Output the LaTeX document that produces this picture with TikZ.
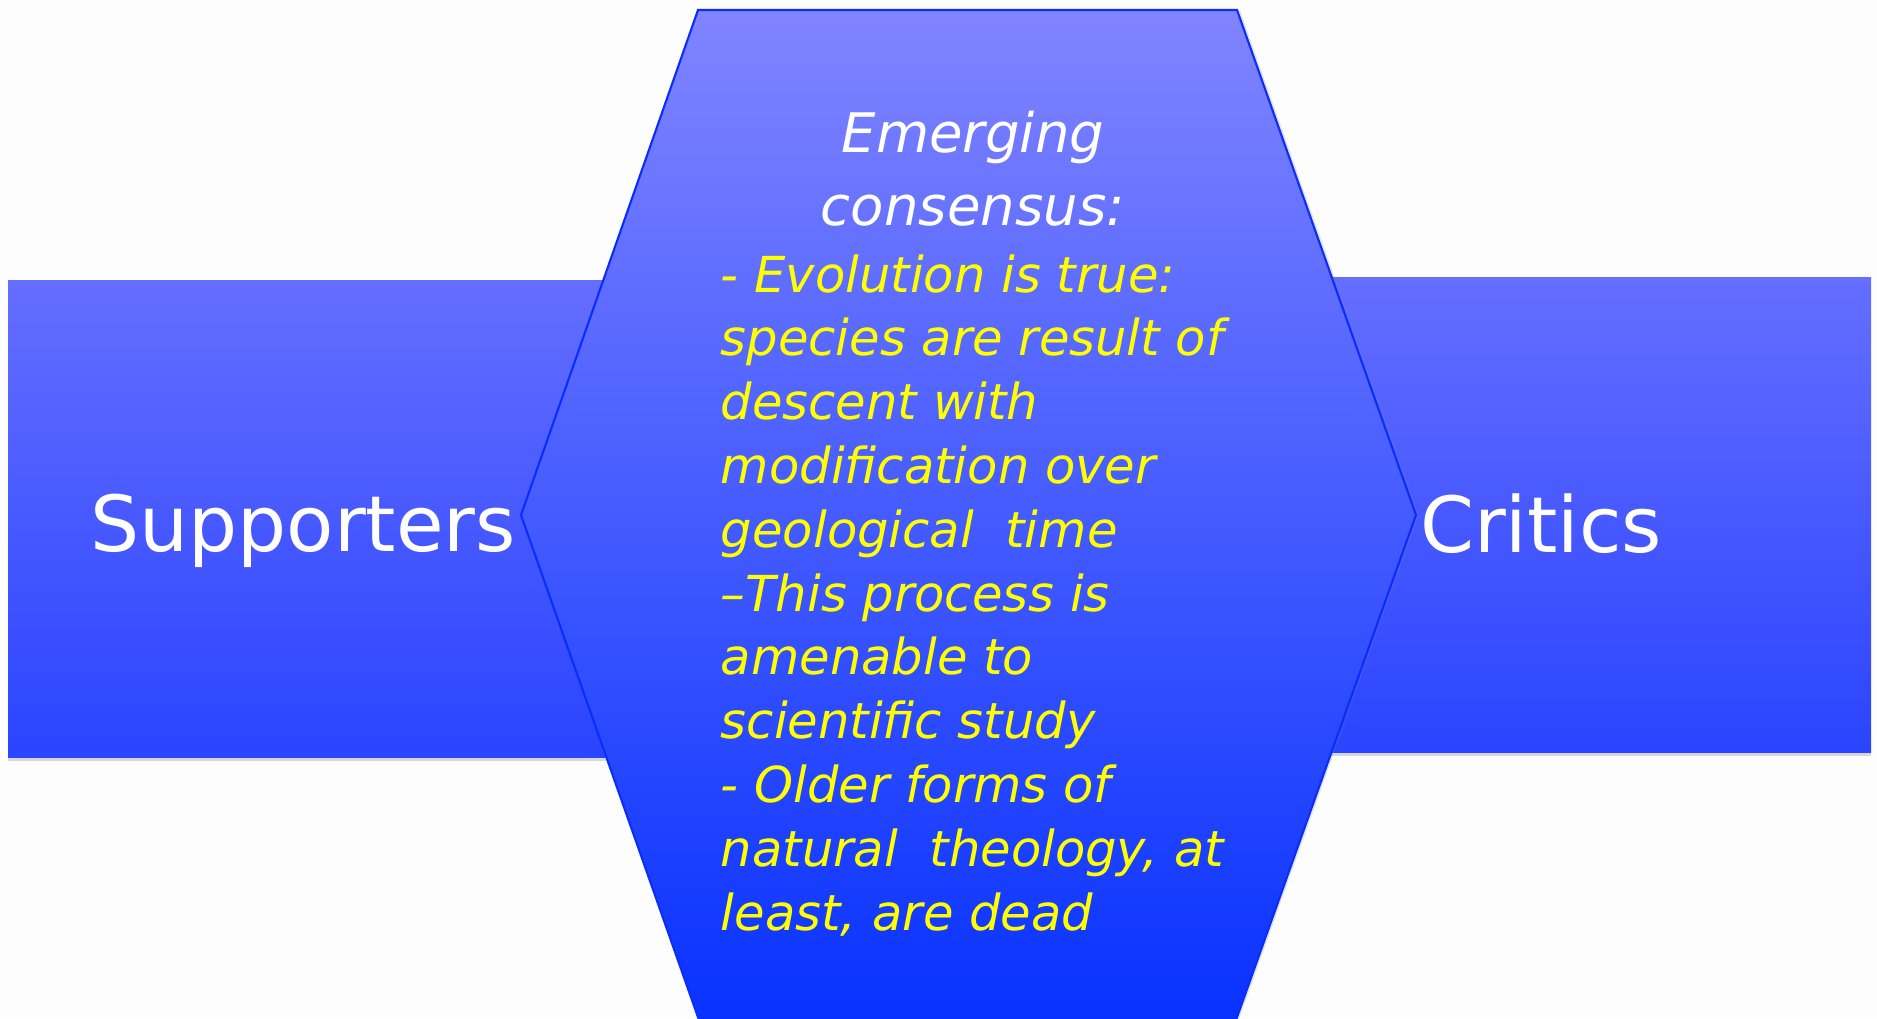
\documentclass[tikz,border=0pt]{standalone}
\usepackage{fontspec}
\setmainfont{DejaVu Sans}
\usetikzlibrary{shadows}
\definecolor{hextop}{RGB}{128,132,255}
\definecolor{hexbottom}{RGB}{8,50,255}
\definecolor{paneltop}{RGB}{100,110,255}
\definecolor{panelbottom}{RGB}{42,68,255}
\definecolor{hexline}{RGB}{10,45,255}
\definecolor{pagebg}{RGB}{253,253,253}
\definecolor{pointyellow}{RGB}{255,255,0}
\begin{document}
\begin{tikzpicture}[x=0.01cm, y=-0.01cm, line width=0.5pt,
  panel/.style={top color=paneltop, bottom color=panelbottom,
    drop shadow={shadow xshift=0pt, shadow yshift=-1.2pt, opacity=0.3}},
  side/.style={anchor=base, text=white, font=\fontsize{22}{26}\selectfont},
  heading/.style={anchor=base, text=white, font=\fontsize{15.5}{20}\itshape},
  point/.style={anchor=base west, inner sep=0pt, text=pointyellow,
    font=\fontsize{14.1}{18}\itshape}]
  \fill[pagebg] (0,0) rectangle (1877,1018);
  % side panels
  \path[panel] (8,280) rectangle (640,757);
  \path[panel] (1300,277) rectangle (1871,752);
  % centre hexagon, its lower edge runs off the page
  \draw[hexline, line width=0.6pt, top color=hextop, bottom color=hexbottom,
    drop shadow={shadow xshift=0.8pt, shadow yshift=0pt, opacity=0.2}]
    (698,10) -- (1237,10) -- (1416,515) -- (1236,1020) -- (699,1020) -- (521,515) -- cycle;
  \node[side] (supporters) at (303,551) {Supporters};
  \node[side] (critics) at (1541,552) {Critics};
  \node[heading] (emerging) at (973,152) {Emerging};
  \node[heading] (consensus) at (973,225) {consensus:};
  \foreach \txt [count=\i from 0] in {- Evolution is true:, species are result of,
      descent with, modification over, geological~~time, –This process is,
      amenable to, scientific study, - Older forms of, {natural~~theology, at},
      {least, are dead}}
    \node[point] (point\i) at (720,292+63.8*\i) {\txt};
  % page size
  \pgfresetboundingbox
  \useasboundingbox (0,0) rectangle (1877,1018);
\end{tikzpicture}
\end{document}
